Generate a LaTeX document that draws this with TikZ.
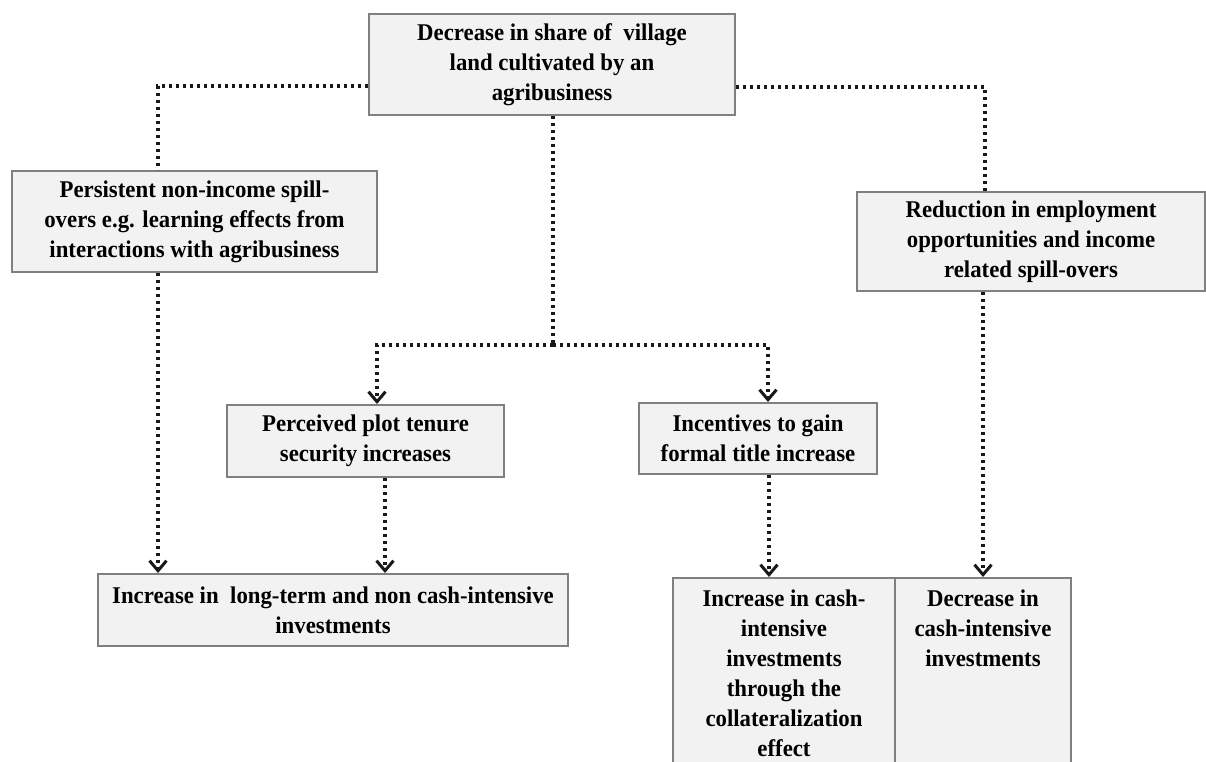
\documentclass[tikz,border=0pt]{standalone}
\usepackage{fontspec}
\setmainfont[FakeStretch=0.95]{Liberation Serif}
\usetikzlibrary{arrows.meta}
\definecolor{boxfill}{HTML}{F2F2F2}
\definecolor{boxline}{HTML}{808080}
\tikzset{
  box/.style={draw=boxline, line width=2pt, fill=boxfill, align=center,
    font=\fontsize{24}{30}\selectfont\bfseries, inner sep=0pt},
  link/.style={line width=3.4pt, dash pattern=on 3.4pt off 3.6pt, black!90},
  arr/.style={link, -{Straight Barb[length=10pt,width=17pt,line width=3pt]}}
}
\begin{document}
\begin{tikzpicture}[x=1pt,y=-1pt]
\clip (0,0) rectangle (1206,761);
\fill[white] (0,0) rectangle (1206,761);
% boxes
\node[box, minimum width=366, minimum height=101] (top) at (552,64.5)
  {Decrease in share of \ village\\land cultivated by an\\agribusiness};
\node[box, minimum width=365, minimum height=101] (pers) at (194.5,221.5)
  {Persistent non-income spill-\\overs e.g. learning effects from\\interactions with agribusiness};
\node[box, minimum width=348, minimum height=99] (red) at (1031,241.5)
  {Reduction in employment\\opportunities and income\\related spill-overs};
\node[box, minimum width=277, minimum height=72] (perc) at (365.5,441)
  {Perceived plot tenure\\security increases};
\node[box, minimum width=238, minimum height=71] (inc) at (758,438.5)
  {Incentives to gain\\formal title increase};
\node[box, minimum width=470, minimum height=72] (incr) at (333,610)
  {Increase in \ long-term and non cash-intensive\\investments};
\node[box, anchor=north west, minimum width=222, minimum height=213] (cinc) at (672,577)
  {\parbox[t][205pt][t]{222pt}{\centering\vspace{8pt}Increase in cash-\\intensive\\investments\\through the\\collateralization\\effect}};
\node[box, anchor=north west, minimum width=176, minimum height=213] (cdec) at (894,577)
  {\parbox[t][205pt][t]{176pt}{\centering\vspace{8pt}Decrease in\\cash-intensive\\investments}};
% connector coordinates
\coordinate (lc) at (158,86);
\coordinate (rc) at (985,87);
\coordinate (mc) at (553,345);
\coordinate (ml) at (377,345);
\coordinate (mr) at (768,345);
% connectors
\draw[link] (top.west |- lc) -- (lc) -- (pers.north -| lc);
\draw[link] (top.east |- rc) -- (rc) -- (red.north -| rc);
\draw[link] (top.south -| mc) -- (mc);
\draw[arr] (mc) -- (ml) -- (perc.north -| ml);
\draw[arr] (mc) -- (mr) -- (inc.north -| mr);
\draw[arr] (pers.south -| lc) -- (incr.north -| lc);
\coordinate (pc) at (385,500);
\draw[arr] (perc.south -| pc) -- (incr.north -| pc);
\coordinate (ic) at (769,500);
\draw[arr] (inc.south -| ic) -- (cinc.north -| ic);
\coordinate (dc) at (983,400);
\draw[arr] (red.south -| dc) -- (cdec.north -| dc);
\end{tikzpicture}
\end{document}
